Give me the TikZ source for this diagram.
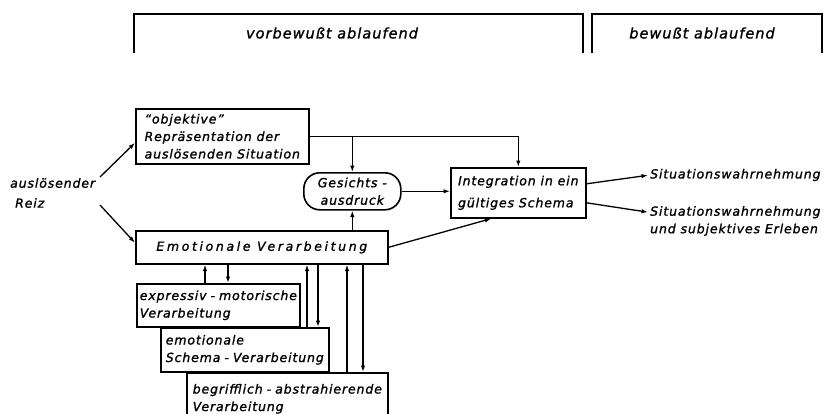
\documentclass[tikz,border=0pt]{standalone}
\usepackage{fontspec}
\usetikzlibrary{arrows.meta,calc}
% technical lettering: oblique sans with open letter spacing
\newfontfamily\hand{DejaVu Sans}[LetterSpace=7,FakeBold=1.3]
\newfontfamily\handwide{DejaVu Sans}[LetterSpace=21,FakeBold=1.3]
\newcommand\hyp{\hspace{4pt}-\hspace{4pt}}
\begin{document}
\begin{tikzpicture}[x=1pt,y=-1pt,
  txt/.style={font=\hand\itshape\fontsize{12.5}{17.5}\selectfont},
  box/.style={txt, draw, line width=1.6pt, inner xsep=6pt, inner ysep=0pt, align=left},
  lbl/.style={txt, inner sep=0pt, align=left},
  head/.style={font=\hand\itshape\fontsize{14.5}{16}\selectfont, inner sep=0pt},
  arr/.style={line width=1.3pt, -{Latex[length=6.5pt,width=4.5pt]}},
  bracket/.style={line width=1.6pt}
]
\useasboundingbox (0,0) rectangle (824,413);
\clip (0,0) rectangle (824,413);

% header brackets
\draw[bracket] (134,53) |- (583,14) -- (583,53);
\draw[bracket] (592,53) |- (822,14) -- (822,53);
\node[head] (pre) at (332,33) {vorbewußt ablaufend};
\node[head] (con) at (702,33) {bewußt ablaufend};

% stimulus
\node[lbl, anchor=west] (reiz) at (10,193) {auslösender\\[2.5pt]\hspace{5pt}Reiz};
\coordinate (r1) at (100,177);
\coordinate (r2) at (100,205);

% boxes
\node[box, anchor=north west, minimum width=173pt, minimum height=55pt] (obj) at (135,108)
  {“objektive”\\Repräsentation der\\auslösenden Situation};
\node[box, anchor=north west, minimum width=252pt, minimum height=33pt,
      font=\handwide\itshape\fontsize{12.5}{14}\selectfont] (emo) at (135,230)
  {Emotionale Verarbeitung};
\node[box, anchor=north west, minimum width=97pt, minimum height=37pt, rounded corners=16pt,
      align=center, inner xsep=4pt] (ges) at (303,172)
  {Gesichts -\\ausdruck};
\node[box, anchor=north west, minimum width=135pt, minimum height=50pt, inner xsep=7pt] (integ) at (450,167)
  {Integration in ein\\[4.5pt]gültiges Schema};
\node[box, anchor=north west, minimum width=163pt, minimum height=43pt, inner xsep=3pt] (expr) at (136,283)
  {expressiv\hyp motorische\\Verarbeitung};
\node[box, anchor=north west, minimum width=168pt, minimum height=44pt, inner xsep=4.5pt] (schema) at (160,327)
  {emotionale\\Schema\hyp Verarbeitung};
\node[box, anchor=north west, minimum width=201pt, minimum height=52pt, inner xsep=3pt] (begr) at (186,372)
  {begrifflich\hyp abstrahierende\\Verarbeitung};

% outputs
\node[lbl, anchor=west] (out1) at (650,175) {Situationswahrnehmung};
\node[lbl, anchor=west] (out2) at (650,221) {Situationswahrnehmung\\und subjektives Erleben};

% connectors
\draw[arr] (r1) -- ([yshift=-6.5pt]obj.west);
\draw[arr] (r2) -- ([yshift=4.5pt]emo.west);
\draw[arr] (obj.east) -| (integ.north);
\draw[arr] (obj.east -| ges.north) -- (ges.north);
\draw[arr] (emo.north -| ges.south) -- (ges.south);
\draw[arr] (ges.east) -- (ges.east -| integ.west);
\draw[arr] (emo.east) -- ([xshift=-27pt]integ.south);
\draw[arr, shorten >=2pt] ([yshift=9pt]integ.east) -- (out1.west);
\draw[arr, shorten >=2pt] ([yshift=-10pt]integ.east) -- ([yshift=8.5pt]out2.west);

% feedback between emotional processing and the three levels
\draw[arr] ([xshift=69pt]expr.north west) -- ([xshift=69pt]expr.north west |- emo.south);
\draw[arr] ([xshift=92pt]expr.north west |- emo.south) -- ([xshift=92pt]expr.north west);
\draw[arr] ([xshift=147pt]schema.north west) -- ([xshift=147pt]schema.north west |- emo.south);
\draw[arr] ([xshift=158pt]schema.north west |- emo.south) -- ([xshift=158pt]schema.north west);
\draw[arr] ([xshift=161pt]begr.north west) -- ([xshift=161pt]begr.north west |- emo.south);
\draw[arr] ([xshift=177pt]begr.north west |- emo.south) -- ([xshift=177pt]begr.north west);
\end{tikzpicture}
\end{document}
